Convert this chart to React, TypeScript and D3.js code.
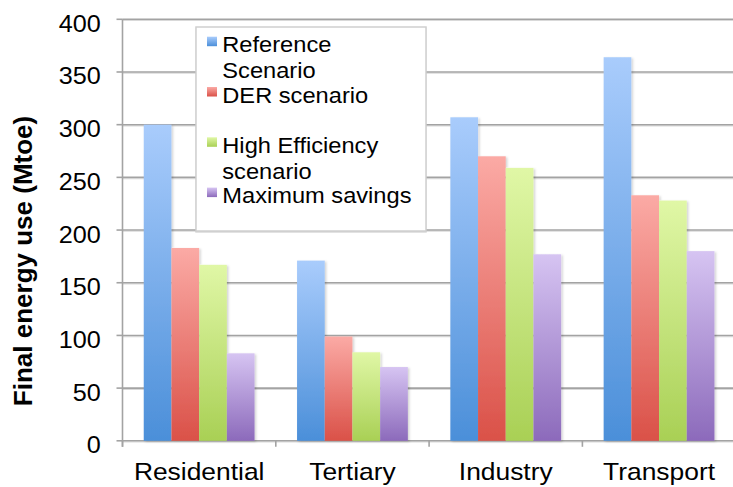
import React from "react";
import * as d3 from "d3";

// Final energy use by sector under four scenarios (Mtoe)
const sectors = ["Residential", "Tertiary", "Industry", "Transport"];
const scenarioNames = ["Reference\nScenario", "DER scenario", "High Efficiency\nscenario", "Maximum savings"];
const referenceScenario = [300, 171, 307, 364];
const derScenario = [183, 99, 270, 233];
const highEfficiency = [167, 84, 259, 228];
const maximumSavings = [83, 70, 177, 180];
const yTicks = [0, 50, 100, 150, 200, 250, 300, 350, 400];

const seriesValues = [referenceScenario, derScenario, highEfficiency, maximumSavings];
const seriesColors = [
  { top: "#a9ccfc", bottom: "#4b8fd9" },
  { top: "#fbaaa5", bottom: "#da5148" },
  { top: "#e0f7a6", bottom: "#a9d055" },
  { top: "#d6c4f2", bottom: "#8c6abb" },
];

const W = 733;
const H = 487;
const FONT = "'Liberation Sans', Arial, Helvetica, sans-serif";

// Text placed at (x, y) and widened horizontally around its anchor point.
function WideText(props: {
  x: number;
  y: number;
  sx: number;
  size: number;
  anchor?: string;
  dy?: string;
  weight?: string;
  children: React.ReactNode;
}) {
  const { x, y, sx, size, anchor = "start", dy, weight, children } = props;
  return (
    <text
      transform={`translate(${x},${y}) scale(${sx},1)`}
      dy={dy}
      textAnchor={anchor}
      fontSize={size}
      fontWeight={weight}
      fill="#000"
    >
      {children}
    </text>
  );
}

export default function App() {
  const x0 = d3.scaleBand<string>().domain(sectors).range([122.5, 735.7]).paddingInner(0).paddingOuter(0);
  const x1 = d3
    .scaleBand<number>()
    .domain(d3.range(seriesValues.length))
    .range([0, x0.bandwidth()])
    .paddingInner(0)
    .paddingOuter(0.767);
  const y = d3.scaleLinear().domain([0, 400]).range([440.8, 19.3]);

  const xLeft = x0.range()[0];
  const xRight = x0.range()[1];

  const legendX = 196;
  const legendY = 27;
  const legendW = 230;
  const legendH = 204;

  return (
    <svg
      width={W}
      height={H}
      style={{ position: "absolute", left: 0, top: 0, background: "#fff" }}
      fontFamily={FONT}
    >
      <defs>
        {seriesColors.map((c, i) => (
          <linearGradient key={i} id={`grad${i}`} x1="0" y1="0" x2="0" y2="1">
            <stop offset="0%" stopColor={c.top} />
            <stop offset="100%" stopColor={c.bottom} />
          </linearGradient>
        ))}
        <filter id="soft" x="-20%" y="-5%" width="150%" height="115%">
          <feDropShadow dx="1.5" dy="1" stdDeviation="1.2" floodColor="#000" floodOpacity="0.18" />
        </filter>
        <filter id="lineShadow" x="-5%" y="-200%" width="110%" height="500%">
          <feDropShadow dx="0" dy="1" stdDeviation="0.6" floodColor="#000" floodOpacity="0.15" />
        </filter>
      </defs>

      {/* horizontal gridlines */}
      <g filter="url(#lineShadow)">
        {yTicks.map((t) => (
          <line key={t} x1={xLeft} x2={xRight} y1={y(t)} y2={y(t)} stroke="#a3a3a3" strokeWidth={1.6} />
        ))}
      </g>

      {/* y axis line and ticks */}
      <line x1={xLeft} x2={xLeft} y1={y(400)} y2={y(0) + 6} stroke="#a3a3a3" strokeWidth={1.6} />
      {yTicks.map((t) => (
        <line key={t} x1={xLeft - 6} x2={xLeft} y1={y(t)} y2={y(t)} stroke="#a3a3a3" strokeWidth={1.6} />
      ))}
      {yTicks.map((t) => (
        <WideText key={t} x={100.7} y={y(t)} dy="0.52em" anchor="end" size={24} sx={1.05}>
          {t}
        </WideText>
      ))}

      {/* x axis category ticks */}
      {sectors.map((s) => (
        <line key={s} x1={x0(s)!} x2={x0(s)!} y1={y(0)} y2={y(0) + 6} stroke="#a3a3a3" strokeWidth={1.6} />
      ))}

      {/* bars */}
      <g filter="url(#soft)">
        {sectors.map((s, si) =>
          seriesValues.map((vals, k) => (
            <rect
              key={`${s}-${k}`}
              x={x0(s)! + x1(k)!}
              y={y(vals[si])}
              width={x1.bandwidth()}
              height={y(0) - y(vals[si])}
              fill={`url(#grad${k})`}
            />
          ))
        )}
      </g>

      {/* category labels */}
      {sectors.map((s) => (
        <WideText key={s} x={x0(s)! + x0.bandwidth() / 2} y={480} anchor="middle" size={24} sx={1.1}>
          {s}
        </WideText>
      ))}

      {/* y axis title */}
      <text
        transform={`translate(32, 261) rotate(-90)`}
        textAnchor="middle"
        fontSize={26}
        fontWeight="bold"
        fill="#000"
      >
        Final energy use (Mtoe)
      </text>

      {/* legend */}
      <rect
        x={legendX}
        y={legendY}
        width={legendW}
        height={legendH}
        fill="#fff"
        stroke="#cfcfcf"
        strokeWidth={1.5}
        filter="url(#lineShadow)"
      />
      {scenarioNames.map((name, i) => {
        const base = 52.3 + i * 50.3;
        return (
          <g key={name}>
            <rect x={207} y={base - 15.6} width={10} height={9.5} fill={`url(#grad${i})`} />
            {name.split("\n").map((line, li) => (
              <WideText key={li} x={222.3} y={base + li * 26} size={21.5} sx={1.1}>
                {line}
              </WideText>
            ))}
          </g>
        );
      })}
    </svg>
  );
}
